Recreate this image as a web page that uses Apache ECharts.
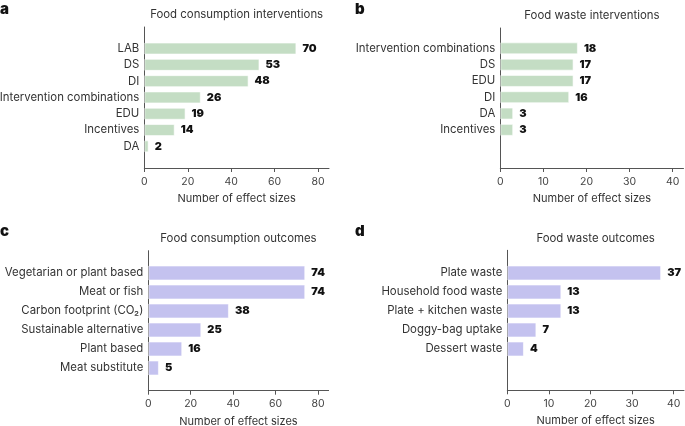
<!DOCTYPE html>
<html>
<head>
<meta charset="utf-8">
<script src="https://cdn.jsdelivr.net/npm/echarts@6/dist/echarts.min.js"></script>
<style>
  html, body { margin: 0; padding: 0; background: #fff; }
  #chart { width: 685px; height: 426px; }
</style>
</head>
<body>
<div id="chart"></div>
<script>
const chart = echarts.init(document.getElementById('chart'));

const consumptionInterventions = ['LAB', 'DS', 'DI', 'Intervention combinations', 'EDU', 'Incentives', 'DA'];
const consumptionInterventionCounts = [70, 53, 48, 26, 19, 14, 2];
const wasteInterventions = ['Intervention combinations', 'DS', 'EDU', 'DI', 'DA', 'Incentives'];
const wasteInterventionCounts = [18, 17, 17, 16, 3, 3];
const consumptionOutcomes = ['Vegetarian or plant based', 'Meat or fish', 'Carbon footprint (CO₂)', 'Sustainable alternative', 'Plant based', 'Meat substitute'];
const consumptionOutcomeCounts = [74, 74, 38, 25, 16, 5];
const wasteOutcomes = ['Plate waste', 'Household food waste', 'Plate + kitchen waste', 'Doggy-bag uptake', 'Dessert waste'];
const wasteOutcomeCounts = [37, 13, 13, 7, 4];
const consumptionTicks = [0, 20, 40, 60, 80];
const wasteTicks = [0, 10, 20, 30, 40];

const FONT = 'Inter, "Noto Sans", sans-serif';
const GREEN = '#c4ddc4';
const PURPLE = '#c4c2ef';
const AXIS = '#555';

// frame = box that carries the axis lines, bars = inner band area
const panels = [
  { letter: 'a', title: 'Food consumption interventions', cats: consumptionInterventions, vals: consumptionInterventionCounts,
    ticks: consumptionTicks, max: 85, color: GREEN, barWidth: 12,
    frame: { left: 144.3, width: 184.7, top: 27, height: 141 },
    bars: { top: 40.4, height: 114.1 }, letterPos: [0, 2] },
  { letter: 'b', title: 'Food waste interventions', cats: wasteInterventions, vals: wasteInterventionCounts,
    ticks: wasteTicks, max: 42.5, color: GREEN, barWidth: 12,
    frame: { left: 500.3, width: 183.2, top: 28, height: 140 },
    bars: { top: 40.2, height: 97.8 }, letterPos: [355, 2] },
  { letter: 'c', title: 'Food consumption outcomes', cats: consumptionOutcomes, vals: consumptionOutcomeCounts,
    ticks: consumptionTicks, max: 85, color: PURPLE, barWidth: 15,
    frame: { left: 148.3, width: 180.3, top: 250.7, height: 140 },
    bars: { top: 263.5, height: 114 }, letterPos: [0, 224] },
  { letter: 'd', title: 'Food waste outcomes', cats: wasteOutcomes, vals: wasteOutcomeCounts,
    ticks: wasteTicks, max: 42.5, color: PURPLE, barWidth: 15,
    frame: { left: 507.3, width: 176.7, top: 250.3, height: 140 },
    bars: { top: 263.5, height: 95 }, letterPos: [355, 224] }
];

const grid = [], xAxis = [], yAxis = [], series = [], graphic = [];

panels.forEach((p, i) => {
  const f = p.frame;
  grid.push({ left: f.left, width: f.width, top: f.top, height: f.height, containLabel: false, outerBoundsMode: 'none' });
  grid.push({ left: f.left, width: f.width, top: p.bars.top, height: p.bars.height, containLabel: false, outerBoundsMode: 'none' });
  const g0 = i * 2, g1 = i * 2 + 1;

  xAxis.push({
    type: 'value', gridIndex: g0, min: 0, max: p.max,
    name: 'Number of effect sizes', nameLocation: 'middle', nameGap: 25,
    nameTextStyle: { fontFamily: FONT, fontSize: 11, color: '#333' },
    axisLine: { show: true, lineStyle: { color: AXIS, width: 1 } },
    axisTick: { show: true, length: 4, customValues: p.ticks, lineStyle: { color: AXIS } },
    axisLabel: { customValues: p.ticks, margin: 8, fontFamily: FONT, fontSize: 10.5, color: '#444' },
    splitLine: { show: false }
  });
  xAxis.push({
    type: 'value', gridIndex: g1, min: 0, max: p.max, show: false, splitLine: { show: false }
  });
  yAxis.push({
    type: 'value', gridIndex: g0, min: 0, max: 1,
    axisLine: { show: true, lineStyle: { color: AXIS, width: 1 } },
    axisTick: { show: false }, axisLabel: { show: false }, splitLine: { show: false }
  });
  yAxis.push({
    type: 'category', gridIndex: g1, data: p.cats, inverse: true,
    axisLine: { show: false }, axisTick: { show: false },
    axisLabel: { margin: 5, fontFamily: FONT, fontSize: 11.4, color: '#333' }
  });
  series.push({
    type: 'bar', xAxisIndex: g1, yAxisIndex: g1, data: p.vals, barWidth: p.barWidth,
    itemStyle: { color: p.color, borderColor: 'rgba(255,255,255,0.6)', borderWidth: 1 },
    label: { show: true, position: 'right', distance: 6, fontFamily: FONT, fontSize: 11,
             fontWeight: 900, color: '#111' },
    silent: true, animation: false
  });
  graphic.push({
    type: 'text', x: f.left + f.width / 2, y: f.top - 12,
    style: { text: p.title, font: '11.4px ' + FONT, fill: '#333', textAlign: 'center', textVerticalAlign: 'middle' }
  });
  graphic.push({
    type: 'text', x: p.letterPos[0], y: p.letterPos[1],
    style: { text: p.letter, font: '900 15px ' + FONT, fill: '#111', textAlign: 'left', textVerticalAlign: 'top' }
  });
});

chart.setOption({
  animation: false,
  grid, xAxis, yAxis, series, graphic
});
</script>
</body>
</html>
